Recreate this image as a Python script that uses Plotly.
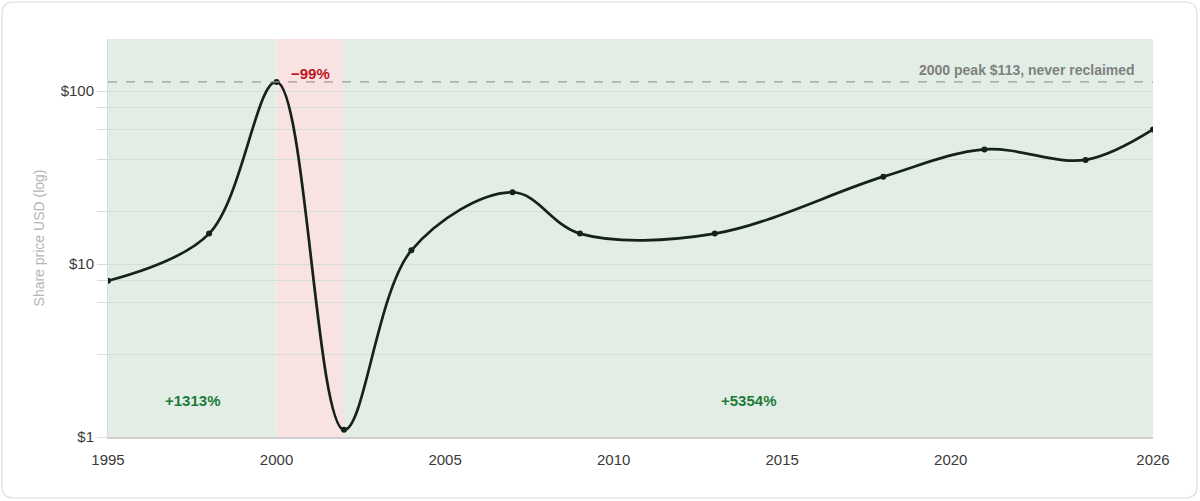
import math
import plotly.graph_objects as go

# ---- data ----
years = [1995, 1998, 2000, 2002, 2004, 2007, 2009, 2013, 2018, 2021, 2024, 2026]
prices = [8, 15, 113, 1.1, 12, 26, 15, 15, 32, 46, 40, 60]

bands_start = [1995, 2000, 2002]
bands_end = [2000, 2002, 2026]
bands_kind = ["up", "down", "up"]
band_labels = ["+1313%", "\u221299%", "+5354%"]

peak_year = 2000
peak_price = 113
peak_label = "2000 peak $113, never reclaimed"

y_tickvals = [1, 3, 6, 8, 10, 20, 40, 60, 80, 100]
y_ticktext = ["$1", "", "", "", "$10", "", "", "", "", "$100"]
x_tickvals = [1995, 2000, 2005, 2010, 2015, 2020, 2026]
y_max = 200

# ---- styling ----
GREEN_BG = "#e2eee5"
RED_BG = "#f9e2e2"
GREEN_TXT = "#1d7a3a"
RED_TXT = "#c0141f"
LINE = "#152219"
FONT = "Liberation Sans, Arial, sans-serif"

W, H = 1200, 501
ML, MR, MT, MB = 108, 47, 39, 64
PW, PH = W - ML - MR, H - MT - MB

fig = go.Figure()
fig.add_trace(go.Scatter(
    x=years, y=prices, mode="lines+markers",
    line=dict(color=LINE, width=2.7, shape="spline", smoothing=1),
    marker=dict(color=LINE, size=6),
    hoverinfo="x+y", showlegend=False,
))

shapes = []
for s, e, k in zip(bands_start, bands_end, bands_kind):
    shapes.append(dict(type="rect", xref="x", yref="paper", x0=s, x1=e, y0=0, y1=1,
                       fillcolor=GREEN_BG if k == "up" else RED_BG,
                       line=dict(width=0), layer="below"))
shapes.append(dict(type="line", xref="paper", yref="y", x0=0, x1=1,
                   y0=peak_price, y1=peak_price,
                   line=dict(color="#9a9a9a", width=1.3, dash="dash")))


# rounded card border (paper coords computed from pixels)
def px(xp):
    return (xp - ML) / PW


def py(yp):
    return (H - MB - yp) / PH


L, R, T, B, r = 2, 1197, 2, 498, 12
path = (f"M {px(L + r)} {py(T)} L {px(R - r)} {py(T)} Q {px(R)} {py(T)} {px(R)} {py(T + r)} "
        f"L {px(R)} {py(B - r)} Q {px(R)} {py(B)} {px(R - r)} {py(B)} "
        f"L {px(L + r)} {py(B)} Q {px(L)} {py(B)} {px(L)} {py(B - r)} "
        f"L {px(L)} {py(T + r)} Q {px(L)} {py(T)} {px(L + r)} {py(T)} Z")
shapes.append(dict(type="path", xref="paper", yref="paper", path=path,
                   line=dict(color="#dedede", width=1.2), layer="below"))

annotations = []
for s, e, k, lab in zip(bands_start, bands_end, bands_kind, band_labels):
    if k == "up":
        annotations.append(dict(x=(s + e) / 2, y=math.log10(1.62), xref="x", yref="y",
                                text=f"<b>{lab}</b>", showarrow=False,
                                font=dict(color=GREEN_TXT, size=15, family=FONT),
                                xanchor="center", yanchor="middle"))
    else:
        annotations.append(dict(x=s, y=math.log10(127), xref="x", yref="y",
                                text=f"<b>{lab}</b>", showarrow=False, xshift=12,
                                font=dict(color=RED_TXT, size=15, family=FONT),
                                xanchor="left", yanchor="middle"))
annotations.append(dict(x=1, y=math.log10(132), xref="paper", yref="y",
                        text=f"<b>{peak_label}</b>", showarrow=False, xshift=-16,
                        font=dict(color="#808080", size=14, family=FONT),
                        xanchor="right", yanchor="middle"))

fig.update_layout(
    width=W, height=H,
    margin=dict(l=ML, r=MR, t=MT, b=MB, pad=0),
    paper_bgcolor="white", plot_bgcolor="white",
    font=dict(family=FONT, color="#444444", size=15),
    shapes=shapes, annotations=annotations,
    xaxis=dict(range=[1995, 2026], tickvals=x_tickvals, showgrid=False, zeroline=False,
               showline=True, linecolor="#cfcfcf", linewidth=1.5, ticks="",
               tickfont=dict(size=15, color="#3a3a3a"), ticklabelstandoff=8),
    yaxis=dict(type="log", range=[0, math.log10(y_max)], tickvals=y_tickvals,
               ticktext=y_ticktext, showgrid=True, gridcolor="#d6dcd8", gridwidth=1,
               zeroline=False, showline=True, linecolor="#d6dcd8", linewidth=1,
               ticks="outside", ticklen=10, tickcolor="#dcdcdc",
               tickfont=dict(size=15, color="#3a3a3a"),
               title=dict(text="Share price USD (log)", standoff=12,
                          font=dict(size=14, color="#b5b5b5"))),
    hovermode="closest",
)

fig.write_html("out.html", config={"displayModeBar": False},
               post_script="document.body.style.margin='0';document.body.style.overflow='hidden';")
